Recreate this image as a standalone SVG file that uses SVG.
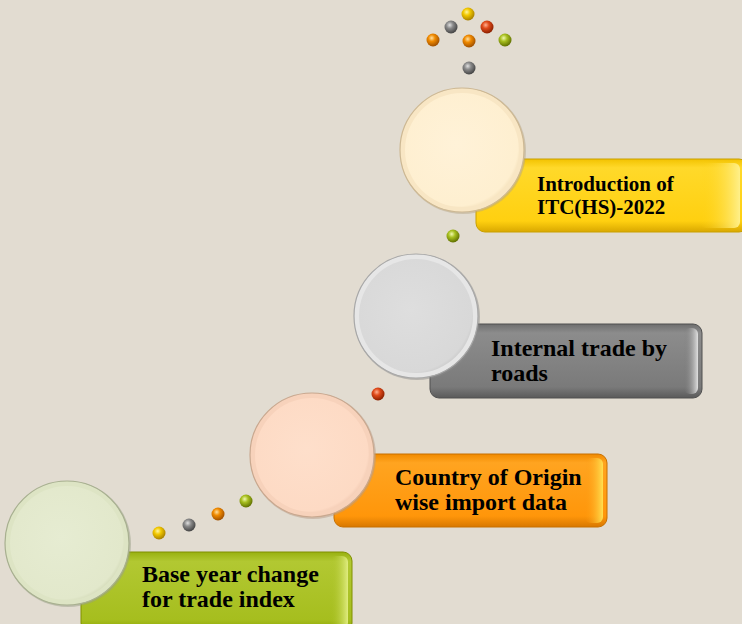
<svg xmlns="http://www.w3.org/2000/svg" width="742" height="624" viewBox="0 0 742 624">
<defs>
<style>
.t{font-family:"Liberation Serif","Times New Roman",serif;font-weight:bold;fill:#000}
.big{font-size:24px}
.sm{font-size:21px}
</style>
<linearGradient id="gY" x1="0" y1="0" x2="0" y2="1"><stop offset="0" stop-color="#F2C200"/><stop offset="0.12" stop-color="#FFD92A"/><stop offset="0.85" stop-color="#FFD010"/><stop offset="1" stop-color="#D9A800"/></linearGradient>
<linearGradient id="gG" x1="0" y1="0" x2="0" y2="1"><stop offset="0" stop-color="#6E6E6E"/><stop offset="0.12" stop-color="#8C8C8C"/><stop offset="0.85" stop-color="#7A7A7A"/><stop offset="1" stop-color="#5A5A5A"/></linearGradient>
<linearGradient id="gO" x1="0" y1="0" x2="0" y2="1"><stop offset="0" stop-color="#F08A00"/><stop offset="0.12" stop-color="#FFA420"/><stop offset="0.85" stop-color="#FF960A"/><stop offset="1" stop-color="#D87800"/></linearGradient>
<linearGradient id="gL" x1="0" y1="0" x2="0" y2="1"><stop offset="0" stop-color="#98B010"/><stop offset="0.12" stop-color="#B2C832"/><stop offset="0.85" stop-color="#A6BE1E"/><stop offset="1" stop-color="#88A000"/></linearGradient>
<linearGradient id="rY" x1="0" y1="0" x2="1" y2="0"><stop offset="0" stop-color="#FFD010" stop-opacity="0"/><stop offset="1" stop-color="#FFF08A"/></linearGradient>
<linearGradient id="rG" x1="0" y1="0" x2="1" y2="0"><stop offset="0" stop-color="#7A7A7A" stop-opacity="0"/><stop offset="1" stop-color="#E0E0E0"/></linearGradient>
<linearGradient id="rO" x1="0" y1="0" x2="1" y2="0"><stop offset="0" stop-color="#FF9A10" stop-opacity="0"/><stop offset="1" stop-color="#FFE050"/></linearGradient>
<linearGradient id="rL" x1="0" y1="0" x2="1" y2="0"><stop offset="0" stop-color="#A6BE1E" stop-opacity="0"/><stop offset="1" stop-color="#E0EC80"/></linearGradient>
<radialGradient id="cY" cx="0.45" cy="0.45" r="0.6"><stop offset="0" stop-color="#FFF2D8"/><stop offset="0.9" stop-color="#FEEFD0"/><stop offset="1" stop-color="#F1DCB4"/></radialGradient>
<radialGradient id="cG" cx="0.45" cy="0.45" r="0.6"><stop offset="0" stop-color="#DEDEDE"/><stop offset="0.9" stop-color="#D8D8D8"/><stop offset="1" stop-color="#C4C4C4"/></radialGradient>
<radialGradient id="cO" cx="0.45" cy="0.45" r="0.6"><stop offset="0" stop-color="#FEDFCB"/><stop offset="0.9" stop-color="#FDDAC4"/><stop offset="1" stop-color="#EDC4AC"/></radialGradient>
<radialGradient id="cL" cx="0.45" cy="0.45" r="0.6"><stop offset="0" stop-color="#E6ECD2"/><stop offset="0.9" stop-color="#E2E8CB"/><stop offset="1" stop-color="#CDD4B0"/></radialGradient>
<radialGradient id="bY" cx="0.4" cy="0.35" r="0.65"><stop offset="0" stop-color="#FFF6A0"/><stop offset="0.4" stop-color="#F2C800"/><stop offset="1" stop-color="#A88000"/></radialGradient>
<radialGradient id="bG" cx="0.4" cy="0.35" r="0.65"><stop offset="0" stop-color="#E0E0E0"/><stop offset="0.4" stop-color="#8A8A8A"/><stop offset="1" stop-color="#444"/></radialGradient>
<radialGradient id="bR" cx="0.4" cy="0.35" r="0.65"><stop offset="0" stop-color="#FFB090"/><stop offset="0.4" stop-color="#E04A1A"/><stop offset="1" stop-color="#8A2000"/></radialGradient>
<radialGradient id="bO" cx="0.4" cy="0.35" r="0.65"><stop offset="0" stop-color="#FFE0A0"/><stop offset="0.4" stop-color="#F08A00"/><stop offset="1" stop-color="#A05000"/></radialGradient>
<radialGradient id="bL" cx="0.4" cy="0.35" r="0.65"><stop offset="0" stop-color="#F0F8B0"/><stop offset="0.4" stop-color="#A8C020"/><stop offset="1" stop-color="#607000"/></radialGradient>
</defs>
<rect width="742" height="624" fill="#E2DCD1"/>

<g id="connectors">
<circle cx="468" cy="14" r="6.5" fill="url(#bY)"/>
<circle cx="451" cy="27" r="6.5" fill="url(#bG)"/>
<circle cx="487" cy="27" r="6.5" fill="url(#bR)"/>
<circle cx="433" cy="40" r="6.5" fill="url(#bO)"/>
<circle cx="469" cy="41" r="6.5" fill="url(#bO)"/>
<circle cx="505" cy="40" r="6.5" fill="url(#bL)"/>
<circle cx="469" cy="68" r="6.5" fill="url(#bG)"/>
<circle cx="453" cy="236" r="6.5" fill="url(#bL)"/>
<circle cx="378" cy="394" r="6.5" fill="url(#bR)"/>
<circle cx="159" cy="533" r="6.5" fill="url(#bY)"/>
<circle cx="189" cy="525" r="6.5" fill="url(#bG)"/>
<circle cx="218" cy="514" r="6.5" fill="url(#bO)"/>
<circle cx="246" cy="501" r="6.5" fill="url(#bL)"/>
</g>

<g id="node-itc">
<rect x="476" y="159" width="272" height="73" rx="9" fill="url(#gY)" stroke="#C9A000" stroke-width="1"/>
<rect x="700" y="163" width="40" height="65" rx="6" fill="url(#rY)"/>
<circle cx="463" cy="151" r="63" fill="#B8A888" opacity="0.5"/>
<circle cx="462" cy="150" r="62" fill="#F8E6C4" stroke="#CDB893" stroke-width="1.2"/>
<circle cx="462" cy="150" r="57" fill="url(#cY)"/>
<text class="t sm" x="537" y="191">Introduction of</text>
<text class="t sm" x="537" y="214">ITC(HS)-2022</text>
</g>

<g id="node-roads">
<rect x="430" y="324" width="272" height="74" rx="9" fill="url(#gG)" stroke="#505050" stroke-width="1"/>
<rect x="684" y="328" width="14" height="66" rx="6" fill="url(#rG)"/>
<circle cx="417" cy="317" r="63" fill="#8C8C8C" opacity="0.5"/>
<circle cx="416" cy="316" r="62" fill="#E6E6E6" stroke="#A8A8A8" stroke-width="1.2"/>
<circle cx="416" cy="316" r="57" fill="url(#cG)"/>
<text class="t big" x="491" y="356">Internal trade by</text>
<text class="t big" x="491" y="381">roads</text>
</g>

<g id="node-origin">
<rect x="334" y="454" width="273" height="73" rx="9" fill="url(#gO)" stroke="#C87000" stroke-width="1"/>
<rect x="585" y="458" width="18" height="65" rx="6" fill="url(#rO)"/>
<circle cx="313" cy="456" r="63" fill="#B89C88" opacity="0.5"/>
<circle cx="312" cy="455" r="62" fill="#F7D2BB" stroke="#C9A88F" stroke-width="1.2"/>
<circle cx="312" cy="455" r="57" fill="url(#cO)"/>
<text class="t big" x="395" y="485">Country of Origin</text>
<text class="t big" x="395" y="510">wise import data</text>
</g>

<g id="node-base">
<rect x="81" y="552" width="271" height="80" rx="9" fill="url(#gL)" stroke="#809000" stroke-width="1"/>
<rect x="330" y="556" width="18" height="72" rx="6" fill="url(#rL)"/>
<circle cx="68" cy="544" r="63" fill="#9AA088" opacity="0.5"/>
<circle cx="67" cy="543" r="62" fill="#DDE4C4" stroke="#A8B090" stroke-width="1.2"/>
<circle cx="67" cy="543" r="57" fill="url(#cL)"/>
<text class="t big" x="142" y="582">Base year change</text>
<text class="t big" x="142" y="607">for trade index</text>
</g>
</svg>
